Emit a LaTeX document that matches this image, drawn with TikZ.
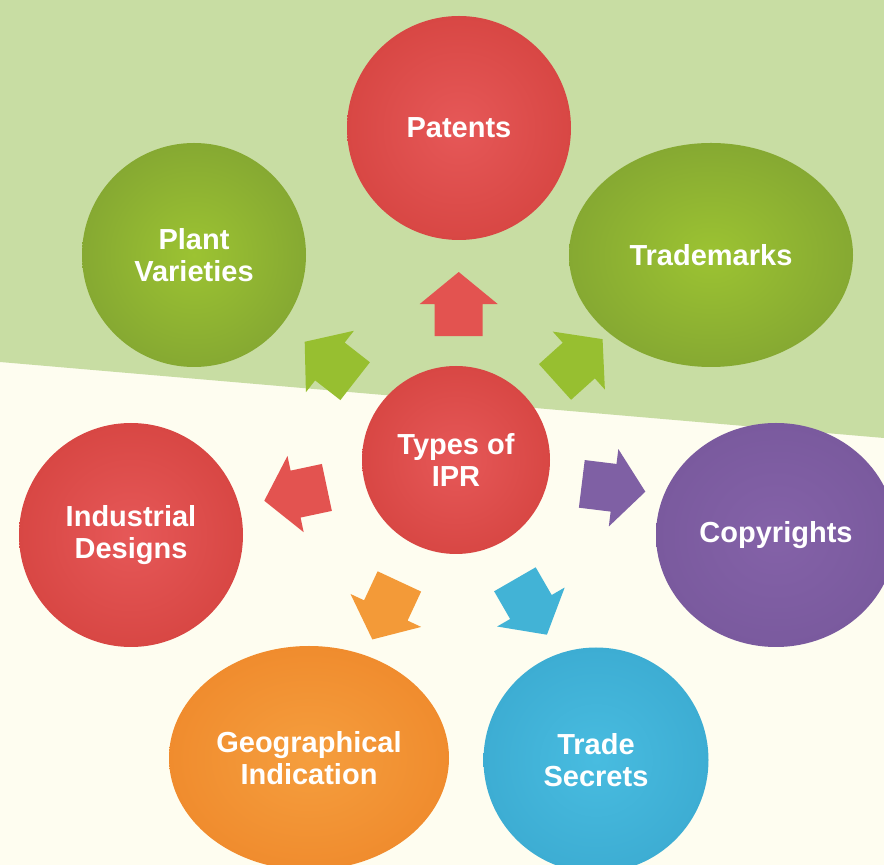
\documentclass[tikz,border=0pt]{standalone}
\usepackage{fontspec}
\setmainfont{Liberation Sans}
\usepackage{tikz}
\usetikzlibrary{shapes.geometric, calc}

\definecolor{bgtop}{HTML}{C8DDA3}
\definecolor{bgbot}{HTML}{FEFDF0}
\definecolor{redin}{HTML}{E65858}
\definecolor{redout}{HTML}{D84744}
\definecolor{grnin}{HTML}{9CC332}
\definecolor{grnout}{HTML}{86A932}
\definecolor{purin}{HTML}{8462A8}
\definecolor{purout}{HTML}{7A5A9E}
\definecolor{orgin}{HTML}{F59E3E}
\definecolor{orgout}{HTML}{F08C2E}
\definecolor{bluin}{HTML}{48BCE0}
\definecolor{bluout}{HTML}{3DADD3}
\definecolor{redarr}{HTML}{E35350}
\definecolor{grnarr}{HTML}{97BF30}
\definecolor{purarr}{HTML}{7F60A4}
\definecolor{orgarr}{HTML}{F39A38}
\definecolor{bluarr}{HTML}{42B3D6}

\tikzset{
	pics/blockarrow/.style={code={
		\fill[#1] (-32,-24) -- (0,-24) -- (0,-39) -- (32,0) -- (0,39) -- (0,24) -- (-32,24) -- cycle;
	}}
}

\begin{document}
\begin{tikzpicture}[x=1pt, y=1pt,
					bubble/.style={ellipse, inner sep=0pt, text=white, align=center,
						font=\bfseries\fontsize{29}{32}\selectfont},
					redbub/.style={bubble, inner color=redin, outer color=redout},
					grnbub/.style={bubble, inner color=grnin, outer color=grnout},
					purbub/.style={bubble, inner color=purin, outer color=purout},
					orgbub/.style={bubble, inner color=orgin, outer color=orgout},
					blubub/.style={bubble, inner color=bluin, outer color=bluout}]

	\useasboundingbox (0,0) rectangle (884,865);
	\clip (0,0) rectangle (884,865);

	% background
	\fill[bgbot] (0,0) rectangle (884,865);
	\fill[bgtop] (0,865) -- (884,865) -- (884,427) -- (0,503) -- cycle;

	% bubbles
	\node[redbub, minimum width=224, minimum height=224] (pat) at (459,737) {Patents};
	\node[grnbub, minimum width=224, minimum height=224] (pv) at (194,610) {Plant\\Varieties};
	\node[grnbub, minimum width=284, minimum height=224] (tm) at (711,610) {Trademarks};
	\node[redbub, minimum width=188, minimum height=188] (ipr) at (456,405) {Types of\\IPR};
	\node[redbub, minimum width=224, minimum height=224] (ind) at (131,330) {Industrial\\Designs};
	\node[purbub, minimum width=240, minimum height=224] (cr) at (776,330) {Copyrights};
	\node[orgbub, minimum width=280, minimum height=224] (gi) at (309,107) {Geographical\\Indication};
	\node[blubub, minimum width=225, minimum height=225] (ts) at (596,105) {Trade\\Secrets};

	% block arrows
	\foreach \a/\r/\d/\c in {89/90/156/redarr, 142/142/160/grnarr, 39/42/158/grnarr,
							 192/192/164/redarr, -10/-7/160/purarr,
							 245/245/166/orgarr, -63/-60/165/bluarr}
		\path ($(ipr)+(\a:\d)$) pic[rotate=\r]{blockarrow=\c};
\end{tikzpicture}
\end{document}
